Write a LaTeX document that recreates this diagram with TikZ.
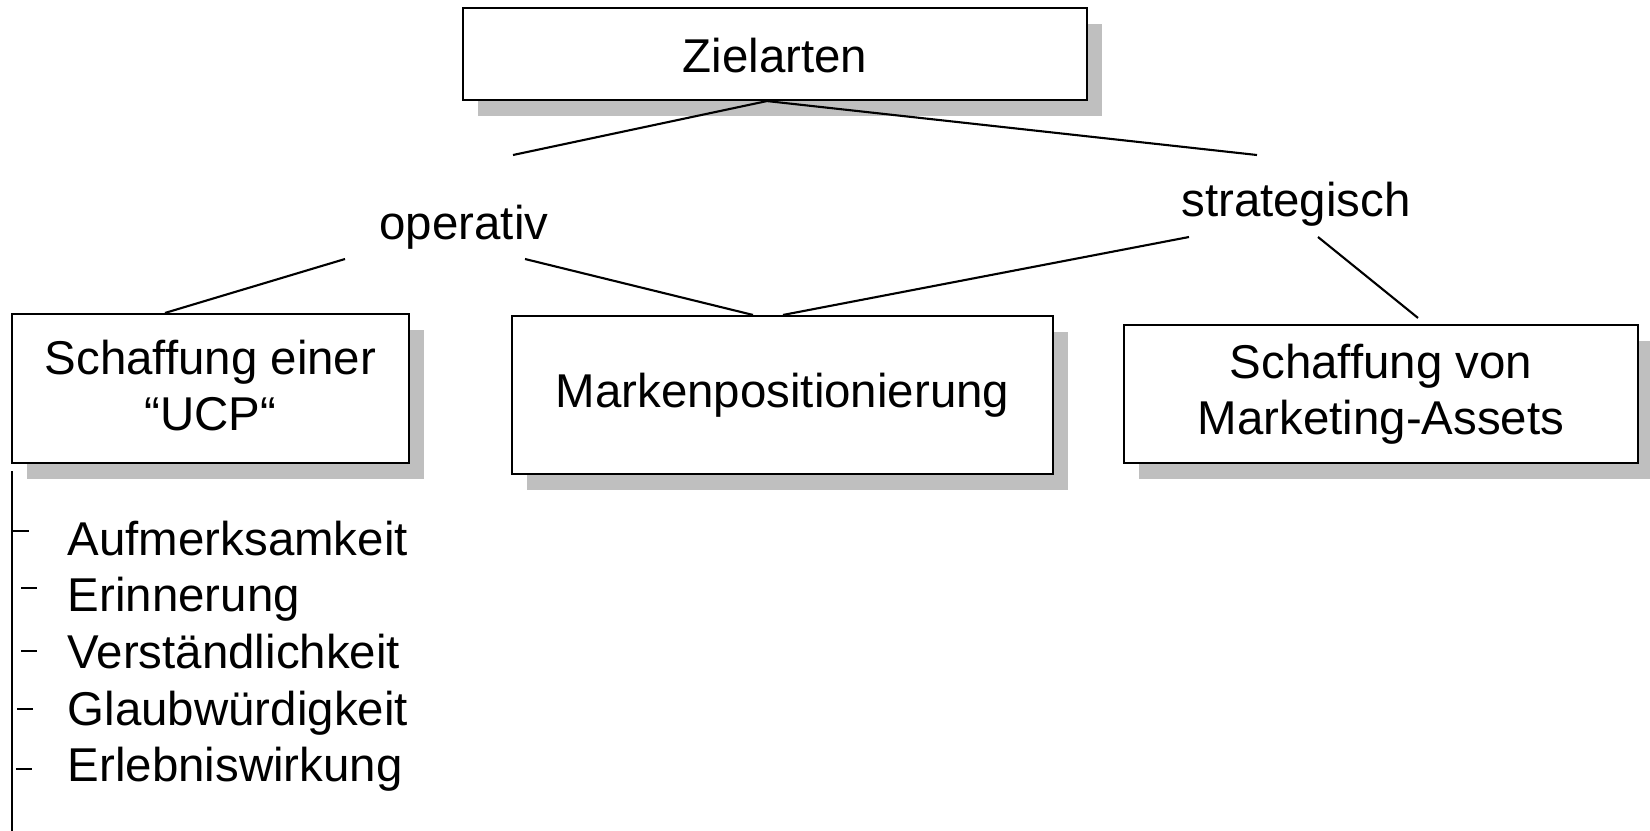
\documentclass[tikz,border=0pt]{standalone}
\usepackage{fontspec}
\setmainfont{Liberation Sans}
\usetikzlibrary{positioning,calc,shadows}

\begin{document}
\begin{tikzpicture}[
  font=\fontsize{13.5pt}{15.9pt}\selectfont,
  blk/.style={draw, line width=0.6pt, fill=white, align=center, inner sep=0pt,
    drop shadow={shadow xshift=1.5mm, shadow yshift=-1.6mm, fill=black!25, opacity=1}},
  lnk/.style={line width=0.6pt},
  lbl/.style={inner sep=0pt, anchor=base},
  itm/.style={inner sep=0pt, anchor=base west},
  tck/.style={line width=0.5pt},
]
\useasboundingbox (0,0) rectangle (165mm,-83.1mm);
\clip (0,0) rectangle (165mm,-83.1mm);

% ================= boxes =================
\node[blk, minimum width=62.4mm, minimum height=9.2mm, text height=3.7mm, text depth=0mm] (ziel) at (77.5mm,-5.4mm) {Zielarten};
\node[blk, minimum width=39.7mm, minimum height=14.9mm, text depth=0.65mm] (ucp) at (21.05mm,-38.85mm) {Schaffung einer\\``UCP``};
\node[blk, minimum width=54.1mm, minimum height=15.8mm] (marke) at (78.25mm,-39.5mm) {Markenpositionierung};
\node[blk, minimum width=51.4mm, minimum height=13.8mm] (assets) at (138.1mm,-39.4mm) {Schaffung von\\Marketing-Assets};

% ================= labels =================
\node[lbl] (op) at (46.4mm,-23.9mm) {operativ};
\node[lbl] (strat) at (129.6mm,-21.6mm) {strategisch};

% ================= connectors =================
\draw[lnk] ($(ziel.south)+(-0.8mm,0)$) -- ($(op.base)+(4.9mm,8.4mm)$);
\draw[lnk] ($(ziel.south)+(-0.8mm,0)$) -- ($(strat.base)+(-3.9mm,6.1mm)$);
\draw[lnk] ($(op.base)+(-11.9mm,-2.0mm)$) -- ($(ucp.north)+(-4.55mm,0)$);
\draw[lnk] ($(op.base)+(6.1mm,-2.0mm)$) -- ($(marke.north)+(-2.95mm,0)$);
\draw[lnk] ($(strat.base)+(-10.7mm,-2.1mm)$) -- ($(marke.north)+(0.05mm,0)$);
\draw[lnk] ($(strat.base)+(2.2mm,-2.1mm)$) -- ($(assets.north)+(3.7mm,0.6mm)$);

% ================= list under UCP =================
\node[itm] (auf) at (6.7mm,-55.5mm) {Aufmerksamkeit};
\node[itm] (erin) at (6.7mm,-61.1mm) {Erinnerung};
\node[itm] (vers) at (6.7mm,-66.8mm) {Verständlichkeit};
\node[itm] (glaub) at (6.7mm,-72.5mm) {Glaubwürdigkeit};
\node[itm] (erleb) at (6.7mm,-78.1mm) {Erlebniswirkung};

\draw[lnk] ($(ucp.south west)+(0.1mm,-0.7mm)$) -- ++(0,-40mm);
\draw[tck] ($(auf.base west)+(-5.4mm,2.4mm)$) -- ++(1.6mm,0);
\draw[tck] ($(erin.base west)+(-4.6mm,2.3mm)$) -- ++(1.6mm,0);
\draw[tck] ($(vers.base west)+(-4.6mm,1.7mm)$) -- ++(1.6mm,0);
\draw[tck] ($(glaub.base west)+(-5.0mm,1.6mm)$) -- ++(1.6mm,0);
\draw[tck] ($(erleb.base west)+(-5.1mm,1.2mm)$) -- ++(1.6mm,0);

\end{tikzpicture}
\end{document}
